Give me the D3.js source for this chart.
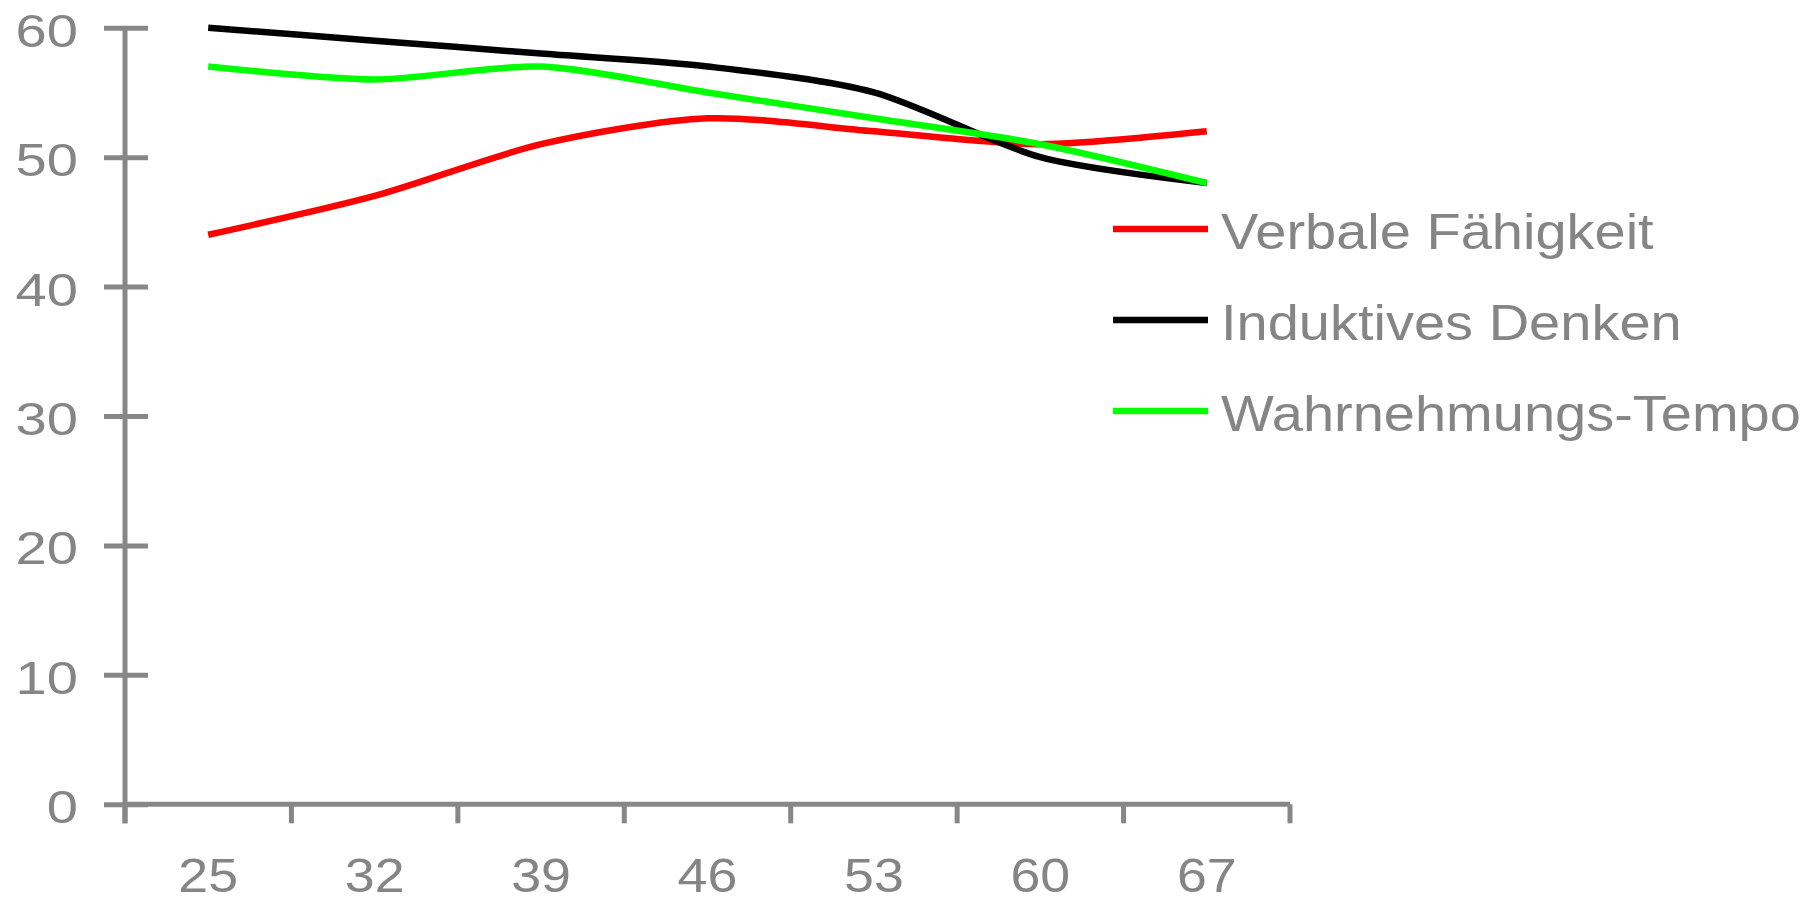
<!DOCTYPE html>
<html>
<head>
<meta charset="utf-8">
<script src="https://cdn.jsdelivr.net/npm/d3@7"></script>
<style>
  html, body { margin: 0; padding: 0; background: #ffffff; }
  svg { display: block; }
  text { font-family: "Liberation Sans", Arial, Helvetica, sans-serif; fill: #858585; }
</style>
</head>
<body>
<svg id="chart" width="1814" height="903"></svg>
<script>
// Age groups (x categories)
const ages = ["25", "32", "39", "46", "53", "60", "67"];

// Series values per age group
const verbal    = [44, 47, 51, 53, 52, 51, 52];
const induktiv  = [60, 59, 58, 57, 55, 50, 48];
const tempo     = [57, 56, 57, 55, 53, 51, 48];

const seriesNames  = ["Verbale Fähigkeit", "Induktives Denken", "Wahrnehmungs-Tempo"];
const seriesColors = ["#ff0000", "#000000", "#00ff00"];
const seriesValues = [verbal, induktiv, tempo];

// Y axis ticks
const yTicks = [0, 10, 20, 30, 40, 50, 60];

const axisColor = "#878787";
const svg = d3.select("#chart");

const x = d3.scaleBand().domain(ages).range([125, 1290]).paddingInner(0).paddingOuter(0);
const y = d3.scaleLinear().domain([0, 60]).range([804.3, 27.7]);

// Y axis
const yAxis = svg.append("g")
  .attr("transform", `translate(${x.range()[0]},0)`)
  .call(d3.axisLeft(y).tickValues(yTicks).tickSize(21).tickFormat(""));
yAxis.select(".domain").remove();
yAxis.selectAll(".tick line")
  .attr("x1", 23).attr("x2", -21)
  .attr("stroke", axisColor).attr("stroke-width", 5);
svg.append("line")
  .attr("x1", x.range()[0]).attr("x2", x.range()[0])
  .attr("y1", y(60)).attr("y2", y(0) + 19)
  .attr("stroke", axisColor).attr("stroke-width", 5);

// Y tick labels (slightly widened glyphs)
svg.append("g").selectAll("text")
  .data(yTicks)
  .join("text")
  .attr("transform", d => `translate(78,${y(d) + 19}) scale(1.22,1)`)
  .attr("text-anchor", "end")
  .style("font-size", "46px")
  .text(d => d);

// X axis line
svg.append("line")
  .attr("x1", x.range()[0]).attr("x2", x.range()[1])
  .attr("y1", y(0)).attr("y2", y(0))
  .attr("stroke", axisColor).attr("stroke-width", 5);

// X ticks at category boundaries
const boundaries = ages.map(a => x(a)).concat([x.range()[1]]);
svg.append("g").selectAll("line")
  .data(boundaries)
  .join("line")
  .attr("x1", d => d).attr("x2", d => d)
  .attr("y1", y(0)).attr("y2", y(0) + 19)
  .attr("stroke", axisColor).attr("stroke-width", 5);

// X labels centered in each category
svg.append("g").selectAll("text")
  .data(ages)
  .join("text")
  .attr("transform", d => `translate(${x(d) + x.bandwidth() / 2},892) scale(1.12,1)`)
  .attr("text-anchor", "middle")
  .style("font-size", "48px")
  .text(d => d);

// Series lines (smoothed)
const line = d3.line()
  .x((d, i) => x(ages[i]) + x.bandwidth() / 2)
  .y(d => y(d))
  .curve(d3.curveCardinal.tension(0.2));

svg.append("g").selectAll("path")
  .data(seriesValues)
  .join("path")
  .attr("d", d => line(d))
  .attr("fill", "none")
  .attr("stroke", (d, i) => seriesColors[i])
  .attr("stroke-width", 6.5)
  .attr("stroke-linejoin", "round");

// Legend
const legend = svg.append("g").selectAll("g")
  .data(seriesNames)
  .join("g")
  .attr("transform", (d, i) => `translate(1113,${229 + i * 91})`);
legend.append("line")
  .attr("x1", 0).attr("x2", 95)
  .attr("y1", 0).attr("y2", 0)
  .attr("stroke", (d, i) => seriesColors[i])
  .attr("stroke-width", 6.5);
legend.append("text")
  .attr("transform", "translate(108,20) scale(1.12,1)")
  .style("font-size", "50px")
  .text(d => d);
</script>
</body>
</html>
